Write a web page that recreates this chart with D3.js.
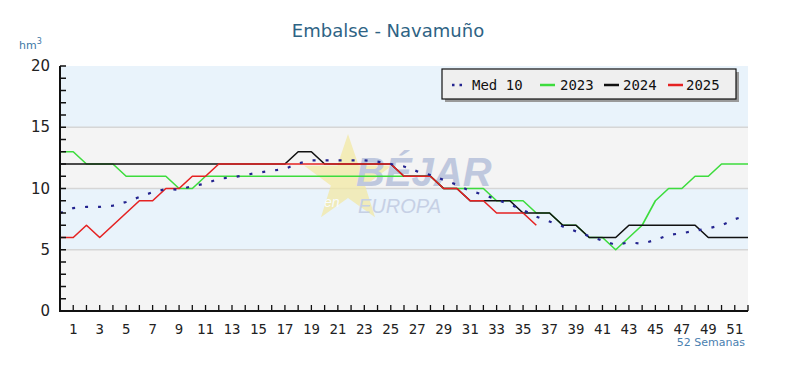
<!DOCTYPE html>
<html><head><meta charset="utf-8">
<script src="https://cdn.jsdelivr.net/npm/d3@7"></script>
<style>body{margin:0;background:#fff}</style>
</head><body>
<svg id="c" width="800" height="368"></svg>
<script>
const weeks = d3.range(0, 53);
const xTickLabels = [1,3,5,7,9,11,13,15,17,19,21,23,25,27,29,31,33,35,37,39,41,43,45,47,49,51];
const yTicks = [0,5,10,15,20];
const med10 = [8.0,8.4,8.5,8.5,8.6,8.9,9.3,9.7,9.95,9.9,10.2,10.4,10.8,10.9,11.1,11.3,11.45,11.6,12.05,12.3,12.3,12.3,12.3,12.3,12.2,12.0,11.8,11.4,11.1,10.7,10.3,9.8,9.5,9.1,8.7,8.25,7.7,7.3,6.9,6.5,6.1,5.75,5.4,5.6,5.5,5.8,6.2,6.35,6.55,6.75,7.0,7.5,7.8];
const y2023 = [13,13,12,12,12,11,11,11,11,10,10,11,11,11,11,11,11,11,11,11,11,11,11,11,11,11,11,11,11,10,10,10,10,9,9,9,8,8,7,7,6,6,5,6,7,9,10,10,11,11,12,12,12];
const y2024 = [12,12,12,12,12,12,12,12,12,12,12,12,12,12,12,12,12,12,13,13,12,12,12,12,12,12,11,11,11,10,10,9,9,9,9,8,8,8,7,7,6,6,6,7,7,7,7,7,7,6,6,6,6];
const y2025 = [6,6,7,6,7,8,9,9,10,10,11,11,12,12,12,12,12,12,12,12,12,12,12,12,12,12,11,11,11,10,10,9,9,8,8,8,7];
const seriesNames = ["Med 10","2023","2024","2025"];
const seriesColors = ["#23238f","#3ddc3d","#111111","#e52222"];

const svg = d3.select("#c");
const x = d3.scaleLinear().domain([0,52]).range([60,748]);
const y = d3.scaleLinear().domain([0,20]).range([311,66]);

// background bands
const bands = [[15,20,"#e9f3fb"],[10,15,"#f4f4f4"],[5,10,"#e9f3fb"],[0,5,"#f4f4f4"]];
svg.selectAll("rect.band").data(bands).join("rect")
  .attr("x", x(0)).attr("width", x(52)-x(0))
  .attr("y", d=>y(d[1])).attr("height", d=>y(d[0])-y(d[1]))
  .attr("fill", d=>d[2]);
svg.selectAll("line.grid").data([5,10,15]).join("line")
  .attr("x1", x(0)).attr("x2", x(52)).attr("y1", d=>y(d)).attr("y2", d=>y(d))
  .attr("stroke","#d6d6d6").attr("stroke-width",1.5);

// watermark
const wm = svg.append("g").attr("opacity",0.7);
const cx=348, cy=180, R=46, r=18;
const pts = d3.range(10).map(i=>{const a=-Math.PI/2+i*Math.PI/5; const rr=i%2?r:R; return [cx+rr*Math.cos(a), cy+rr*Math.sin(a)];});
wm.append("polygon").attr("points", pts.map(p=>p.join(",")).join(" ")).attr("fill","#f3e9a0");
wm.append("text").attr("x",356).attr("y",186).text("BÉJAR")
  .attr("font-family","Liberation Sans, Arial").attr("font-weight","bold").attr("font-style","italic")
  .attr("font-size",40).attr("fill","#aab6d6");
wm.append("text").attr("x",324).attr("y",207).text("en")
  .attr("font-family","Liberation Sans, Arial").attr("font-style","italic")
  .attr("font-size",14).attr("fill","#ffffff");
wm.append("text").attr("x",358).attr("y",213).text("EUROPA")
  .attr("font-family","Liberation Sans, Arial").attr("font-style","italic")
  .attr("font-size",20).attr("fill","#b8c2dc");

// lines
const line = d3.line().x((d,i)=>x(weeks[i])).y(d=>y(d));
const order = [[y2023,1],[y2024,2],[y2025,3]];
order.forEach(([data,k])=>{
  svg.append("path").attr("d", line(data)).attr("fill","none")
    .attr("stroke", seriesColors[k]).attr("stroke-width",1.6).attr("stroke-linejoin","round");
});
svg.append("path").attr("d", line(med10)).attr("fill","none")
  .attr("stroke", seriesColors[0]).attr("stroke-width",2.2).attr("stroke-dasharray","3,10");

// axes
const yAxisMinor = d3.range(0,21);
svg.selectAll("line.ytick").data(yAxisMinor).join("line")
  .attr("x1", x(0)).attr("x2", x(0)+6).attr("y1", d=>y(d)).attr("y2", d=>y(d))
  .attr("stroke","#111").attr("stroke-width",1.5);
svg.selectAll("line.xtick").data(d3.range(1,53)).join("line")
  .attr("x1", d=>x(d)).attr("x2", d=>x(d)).attr("y1", y(0)).attr("y2", y(0)-6)
  .attr("stroke","#111").attr("stroke-width",1.3);
svg.append("line").attr("x1",x(0)).attr("x2",x(0)).attr("y1",y(20)).attr("y2",y(0)+1)
  .attr("stroke","#111").attr("stroke-width",2);
svg.append("line").attr("x1",x(0)-1).attr("x2",x(52)).attr("y1",y(0)).attr("y2",y(0))
  .attr("stroke","#111").attr("stroke-width",2);

svg.selectAll("text.ylab").data(yTicks).join("text")
  .attr("x", 50).attr("y", d=>y(d)+5).attr("text-anchor","end")
  .attr("font-family","DejaVu Sans, Verdana").attr("font-size",15).attr("fill","#222")
  .text(d=>d);
svg.selectAll("text.xlab").data(xTickLabels).join("text")
  .attr("x", d=>x(d)).attr("y", 334).attr("text-anchor","middle")
  .attr("font-family","DejaVu Sans Mono, monospace").attr("font-size",14).attr("fill","#222")
  .text(d=>d);

// titles
svg.append("text").attr("x",388).attr("y",37).attr("text-anchor","middle")
  .attr("font-family","DejaVu Sans, Verdana").attr("font-size",18).attr("fill","#2e6384")
  .text("Embalse - Navamuño");
const hm = svg.append("text").attr("x",19).attr("y",49)
  .attr("font-family","DejaVu Sans, Verdana").attr("font-size",11).attr("fill","#3d78a6");
hm.append("tspan").text("hm");
hm.append("tspan").attr("dy",-5).attr("font-size",8).text("3");
svg.append("text").attr("x",745).attr("y",346).attr("text-anchor","end")
  .attr("font-family","DejaVu Sans, Verdana").attr("font-size",11).attr("fill","#4a80b0")
  .text("52 Semanas");

// legend
const lg = svg.append("g").attr("transform","translate(442,69)");
lg.append("rect").attr("x",3).attr("y",3).attr("width",294).attr("height",30).attr("fill","#9a9a9a");
lg.append("rect").attr("x",0).attr("y",0).attr("width",294).attr("height",30).attr("fill","#efefef").attr("stroke","#111").attr("stroke-width",1.2);
const lx = [[10,30],[98,118],[162,181],[226,244]];
seriesNames.forEach((n,i)=>{
  const g = lg.append("g");
  g.append("line").attr("x1",lx[i][0]).attr("x2",lx[i][0]+15).attr("y1",16).attr("y2",16)
    .attr("stroke",seriesColors[i]).attr("stroke-width", 2.5)
    .attr("stroke-dasharray", i===0?"2.5,5":null);
  g.append("text").attr("x",lx[i][1]).attr("y",21)
    .attr("font-family","DejaVu Sans Mono, monospace").attr("font-size",14).attr("fill","#111")
    .text(n);
});
</script>
</body></html>
